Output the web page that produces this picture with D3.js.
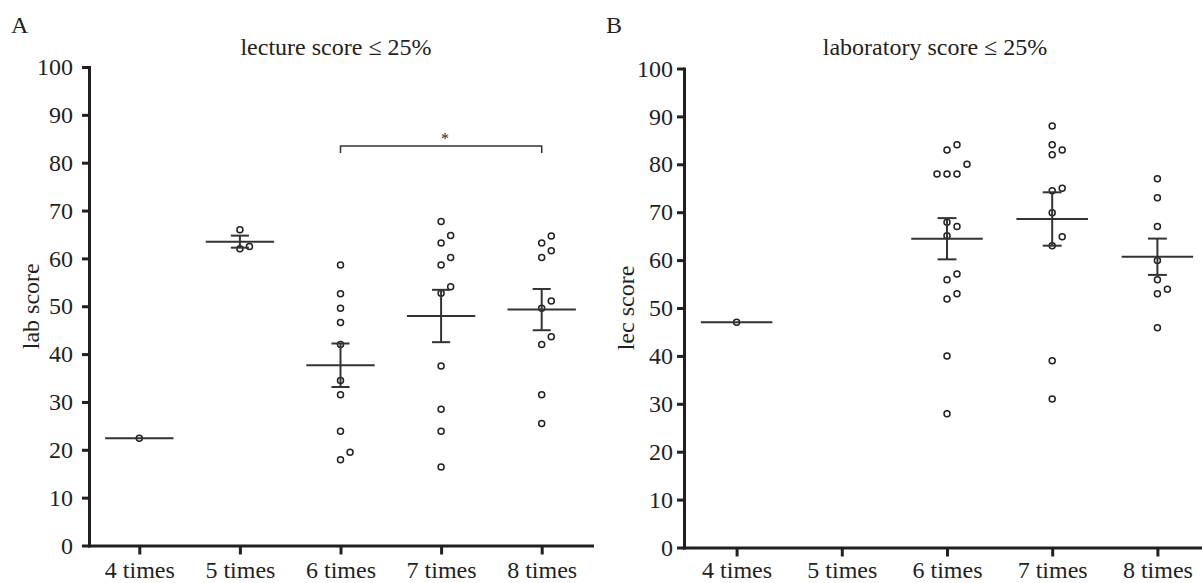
<!DOCTYPE html>
<html>
<head>
<meta charset="utf-8">
<script src="https://cdn.jsdelivr.net/npm/d3@7"></script>
<style>
  body { margin: 0; background: #fff; }
  text { font-family: "Liberation Serif", "Times New Roman", serif; fill: #231f20; }
</style>
</head>
<body>
<div id="chart"></div>
<script>
// categories (number of attendances)
const categories = ["4 times", "5 times", "6 times", "7 times", "8 times"];
const yTicks = [0, 10, 20, 30, 40, 50, 60, 70, 80, 90, 100];

// panel A: lab score, students with lecture score <= 25%
const labScore4 = [22.4];
const labScore5 = [66.0, 62.5, 62.0];
const labScore6 = [58.6, 52.6, 49.6, 46.6, 42.0, 34.5, 31.5, 23.9, 19.5, 17.9];
const labScore7 = [67.7, 64.8, 63.2, 60.2, 58.6, 54.1, 52.7, 37.5, 28.5, 23.9, 16.4];
const labScore8 = [64.7, 63.2, 61.6, 60.2, 51.1, 49.6, 43.6, 42.0, 31.5, 25.5];

// panel B: lec score, students with laboratory score <= 25%
const lecScore4 = [47.0];
const lecScore5 = [];
const lecScore6 = [84.1, 83.0, 80.0, 78.0, 78.0, 78.0, 67.9, 67.0, 65.1, 57.1, 55.9, 53.0, 51.9, 40.0, 27.9];
const lecScore7 = [88.0, 84.1, 83.0, 82.0, 75.0, 74.5, 69.9, 64.9, 63.0, 39.0, 31.0];
const lecScore8 = [77.0, 73.0, 67.0, 59.9, 55.9, 53.9, 53.0, 45.9];

// significance bracket in panel A
const bracketA = [{from: "6 times", to: "8 times", value: 83.5, label: "*"}];

const svg = d3.select("#chart").append("svg")
    .attr("width", 1202)
    .attr("height", 583);

// place overlapping points side by side (simple beeswarm)
function swarm(values, y) {
    const pts = values.map(v => ({v: v, py: y(v)})).sort((a, b) => a.v - b.v);
    const slots = [0, 1, -1, 2, -2, 3, -3];
    const placed = [];
    pts.forEach(p => {
        for (const s of slots) {
            if (!placed.some(q => q.slot === s && Math.abs(q.py - p.py) < 10)) { p.slot = s; break; }
        }
        placed.push(p);
    });
    return placed;
}

function drawPanel(o) {
    const x = d3.scalePoint().domain(categories).range(o.xRange).padding(0.5);
    const y = d3.scaleLinear().domain([0, 100]).range(o.yRange);
    const step = x.step();
    const g = svg.append("g");

    // x axis
    const xAxis = g.append("g")
        .attr("transform", `translate(0,${o.yRange[0]})`)
        .call(d3.axisBottom(x).tickSize(9).tickSizeOuter(0).tickPadding(o.xPad));
    // y axis
    const yAxis = g.append("g")
        .attr("transform", `translate(${o.xRange[0]},0)`)
        .call(d3.axisLeft(y).tickValues(yTicks).tickSize(7).tickSizeOuter(0).tickPadding(o.tickPad));

    [xAxis, yAxis].forEach(a => {
        a.select(".domain").attr("stroke", "#231f20").attr("stroke-width", 3).attr("stroke-linecap", "square");
        a.selectAll(".tick line").attr("stroke", "#231f20").attr("stroke-width", 3);
        a.selectAll(".tick text").attr("font-size", 24).attr("font-family", "Liberation Serif").attr("fill", "#231f20");
    });

    // points
    o.groups.forEach((vals, i) => {
        const cx = x(categories[i]);
        g.selectAll(null)
            .data(swarm(vals, y))
            .join("circle")
            .attr("cx", d => cx + d.slot * step * 0.095)
            .attr("cy", d => d.py)
            .attr("r", 3)
            .attr("fill", "#fff")
            .attr("stroke", "#231f20")
            .attr("stroke-width", 1.5);
    });

    // mean and SEM
    o.groups.forEach((vals, i) => {
        if (!vals.length) return;
        const cx = x(categories[i]);
        const m = d3.mean(vals);
        const lw = step * 0.34, cw = step * 0.09;
        g.append("line")
            .attr("x1", cx - lw).attr("x2", cx + lw)
            .attr("y1", y(m)).attr("y2", y(m))
            .attr("stroke", "#333").attr("stroke-width", 2);
        if (vals.length > 1) {
            const sem = d3.deviation(vals) / Math.sqrt(vals.length);
            g.append("line")
                .attr("x1", cx).attr("x2", cx)
                .attr("y1", y(m + sem)).attr("y2", y(m - sem))
                .attr("stroke", "#333").attr("stroke-width", 2);
            [m + sem, m - sem].forEach(v => {
                g.append("line")
                    .attr("x1", cx - cw).attr("x2", cx + cw)
                    .attr("y1", y(v)).attr("y2", y(v))
                    .attr("stroke", "#333").attr("stroke-width", 2);
            });
        }
    });

    // brackets
    (o.brackets || []).forEach(b => {
        const x1 = x(b.from), x2 = x(b.to), yy = y(b.value);
        g.append("path")
            .attr("d", `M${x1},${yy + 7}V${yy}H${x2}V${yy + 7}`)
            .attr("fill", "none").attr("stroke", "#333").attr("stroke-width", 1.5);
        g.append("text")
            .attr("x", (x1 + x2) / 2 + 4).attr("y", yy - 2)
            .attr("text-anchor", "middle")
            .attr("font-size", 16)
            .text(b.label);
    });

    // titles
    g.append("text")
        .attr("x", o.titleX).attr("y", 55)
        .attr("text-anchor", "middle")
        .attr("font-size", 24)
        .text(o.title);
    g.append("text")
        .attr("x", o.letterX).attr("y", 33)
        .attr("font-size", 24)
        .text(o.letter);
    g.append("text")
        .attr("transform", `translate(${o.yLabelX},${(o.yRange[0] + o.yRange[1]) / 2}) rotate(-90)`)
        .attr("text-anchor", "middle")
        .attr("font-size", 24)
        .text(o.yLabel);
}

drawPanel({
    groups: [labScore4, labScore5, labScore6, labScore7, labScore8],
    xRange: [89, 592], yRange: [545.5, 67],
    tickPad: 9, xPad: 6,
    title: "lecture score \u2264 25%", titleX: 336,
    yLabel: "lab score", yLabelX: 39,
    letter: "A", letterX: 11,
    brackets: bracketA
});

drawPanel({
    groups: [lecScore4, lecScore5, lecScore6, lecScore7, lecScore8],
    xRange: [684, 1210], yRange: [547.5, 68.5],
    tickPad: 4, xPad: 4,
    title: "laboratory score \u2264 25%", titleX: 935,
    yLabel: "lec score", yLabelX: 634,
    letter: "B", letterX: 606
});
</script>
</body>
</html>
